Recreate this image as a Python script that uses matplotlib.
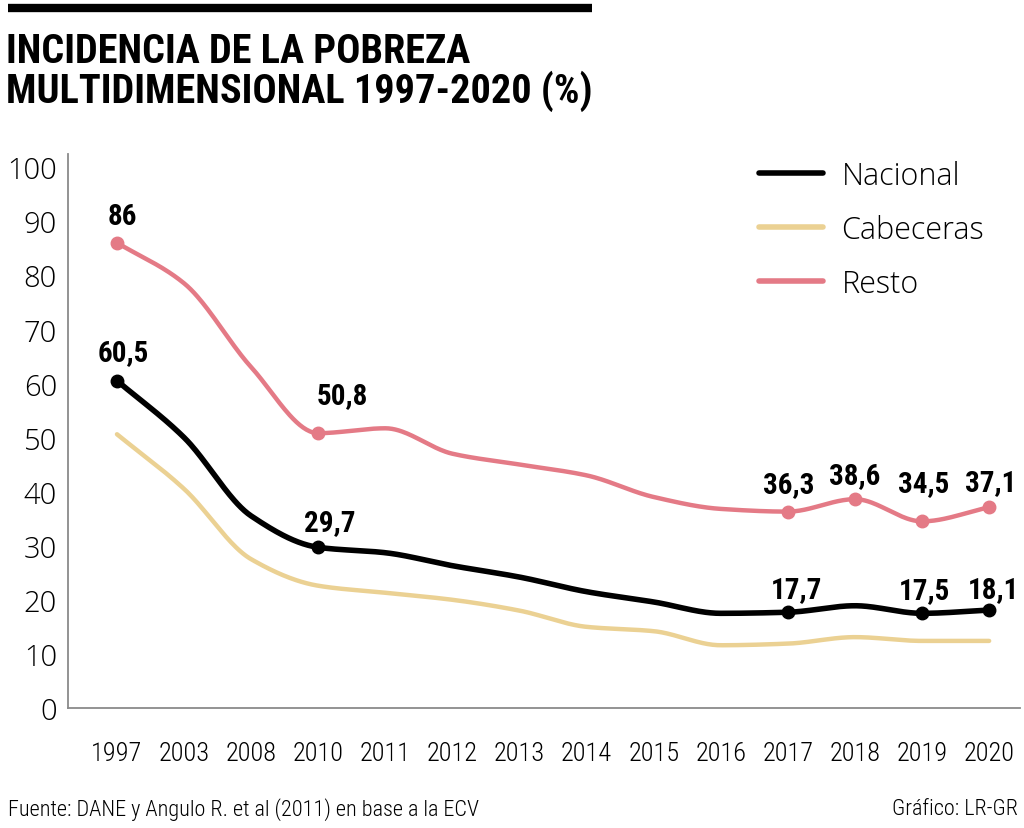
import numpy as np
import matplotlib
matplotlib.use("Agg")
import matplotlib.pyplot as plt
from matplotlib import font_manager as fm
from matplotlib.lines import Line2D

# ---------------- data ----------------
years = ['1997', '2003', '2008', '2010', '2011', '2012', '2013', '2014',
         '2015', '2016', '2017', '2018', '2019', '2020']
nacional = [60.5, 50.0, 35.5, 29.7, 28.7, 26.3, 24.2, 21.5, 19.6, 17.5, 17.7, 18.9, 17.5, 18.1]
cabeceras = [50.6, 40.5, 27.5, 22.6, 21.3, 20.0, 18.0, 15.0, 14.2, 11.6, 11.9, 13.1, 12.4, 12.4]
resto = [86.0, 78.5, 63.0, 50.8, 51.7, 47.0, 45.0, 43.0, 39.0, 36.8, 36.3, 38.6, 34.5, 37.1]

# labelled points (year -> label text)
nacional_labels = {'1997': '60,5', '2010': '29,7', '2017': '17,7', '2019': '17,5', '2020': '18,1'}
resto_labels = {'1997': '86', '2010': '50,8', '2017': '36,3', '2018': '38,6', '2019': '34,5', '2020': '37,1'}

yticks = [0, 10, 20, 30, 40, 50, 60, 70, 80, 90, 100]

title = "INCIDENCIA DE LA POBREZA\nMULTIDIMENSIONAL 1997-2020 (%)"
source = "Fuente: DANE y Angulo R. et al (2011) en base a la ECV"
credit = "Gráfico: LR-GR"

# ---------------- styles ----------------
C_NAC = '#000000'
C_CAB = '#EBD193'
C_RES = '#E47A86'
C_AXIS = '#8a8a8a'

available = {f.name for f in fm.fontManager.ttflist}
def pick(*names):
    for n in names:
        if n in available:
            return n
    return 'DejaVu Sans'

F_NARROW = pick('Roboto Condensed', 'Liberation Sans Narrow', 'Open Sans Condensed', 'Noto Sans', 'DejaVu Sans')
F_LIGHT = pick('Open Sans', 'Lato', 'Noto Sans')
F_TITLE = pick('Roboto Condensed', 'Open Sans', 'Noto Sans')


def monotone(xs, ys, n=40):
    xs = np.asarray(xs, float)
    ys = np.asarray(ys, float)
    h = np.diff(xs)
    d = np.diff(ys) / h
    m = np.zeros_like(ys)
    for k in range(1, len(ys) - 1):
        if d[k - 1] * d[k] <= 0:
            m[k] = 0.0
        else:
            w1 = 2 * h[k] + h[k - 1]
            w2 = h[k] + 2 * h[k - 1]
            m[k] = (w1 + w2) / (w1 / d[k - 1] + w2 / d[k])
    m[0] = d[0]
    m[-1] = d[-1]
    X, Y = [], []
    for k in range(len(xs) - 1):
        t = np.linspace(0, 1, n, endpoint=(k == len(xs) - 2))
        h00 = 2 * t**3 - 3 * t**2 + 1
        h10 = t**3 - 2 * t**2 + t
        h01 = -2 * t**3 + 3 * t**2
        h11 = t**3 - t**2
        X.append(xs[k] + t * h[k])
        Y.append(h00 * ys[k] + h10 * h[k] * m[k] + h01 * ys[k + 1] + h11 * h[k] * m[k + 1])
    return np.concatenate(X), np.concatenate(Y)


fig = plt.figure(figsize=(10.24, 8.29), dpi=100)
ax = fig.add_axes([68 / 1024, 1 - 709 / 829, (1020 - 68) / 1024, (709 - 155) / 829])

x = np.arange(len(years))

for vals, col, lw, z in [(cabeceras, C_CAB, 3.2, 2), (resto, C_RES, 3.2, 3), (nacional, C_NAC, 4.0, 4)]:
    sx, sy = monotone(x, vals)
    ax.plot(sx, sy, color=col, lw=lw, solid_capstyle='round', zorder=z)

# label offsets in pixels (dx right, dy up) from the point to the label centre
label_offsets = {
    ('res', '1997'): (5, 27), ('res', '2010'): (24, 38), ('res', '2017'): (1, 28),
    ('res', '2018'): (0, 24), ('res', '2019'): (2, 38), ('res', '2020'): (2, 25),
    ('nac', '1997'): (6, 29), ('nac', '2010'): (12, 25), ('nac', '2017'): (9, 23),
    ('nac', '2019'): (2, 23), ('nac', '2020'): (4, 21),
}

for key, vals, labs, col in [('res', resto, resto_labels, C_RES), ('nac', nacional, nacional_labels, C_NAC)]:
    for yr, txt in labs.items():
        i = years.index(yr)
        ax.plot(x[i], vals[i], 'o', color=col, ms=9, zorder=6)
        dx, dy = label_offsets[(key, yr)]
        ax.annotate(txt, (x[i], vals[i]), xytext=(dx * 0.72, dy * 0.72), textcoords='offset points',
                    ha='center', va='center', fontsize=21, fontweight='bold',
                    family=F_NARROW, color='black', zorder=7)

ax.set_xlim(-0.73, 13.46)
ax.set_ylim(0, 102.4)
ax.set_xticks(x)
ax.set_xticklabels(years, family=F_NARROW, fontsize=19, fontweight='light')
ax.set_yticks(yticks)
ax.set_yticklabels([str(v) for v in yticks], family=F_LIGHT, fontsize=21, fontweight='light')
ax.tick_params(length=0)
ax.tick_params(axis='y', pad=8)
ax.tick_params(axis='x', pad=24)
for s in ['top', 'right']:
    ax.spines[s].set_visible(False)
for s in ['left', 'bottom']:
    ax.spines[s].set_color(C_AXIS)
    ax.spines[s].set_linewidth(1.3)

# legend
handles = [Line2D([], [], color=C_NAC, lw=4, solid_capstyle='round'),
           Line2D([], [], color=C_CAB, lw=4, solid_capstyle='round'),
           Line2D([], [], color=C_RES, lw=4, solid_capstyle='round')]
leg = fig.legend(handles, ['Nacional', 'Cabeceras', 'Resto'], loc='upper left',
                 bbox_to_anchor=(759 / 1024, 1 - 161 / 829), bbox_transform=fig.transFigure,
                 frameon=False, handlelength=2.1, borderpad=0, borderaxespad=0,
                 handletextpad=0.6, labelspacing=0.72,
                 prop={'family': F_LIGHT, 'size': 22, 'weight': 'light'})

# top bar
fig.add_artist(Line2D([8 / 1024, 592 / 1024], [1 - 9 / 829, 1 - 9 / 829], color='black', lw=6,
                      transform=fig.transFigure, solid_capstyle='butt'))

fig.text(6 / 1024, 1 - 33 / 829, title, ha='left', va='top', fontsize=29, fontweight='bold',
         family=F_TITLE, linespacing=0.98)
fig.text(8 / 1024, 1 - 810 / 829, source, ha='left', va='center', fontsize=16,
         family=F_NARROW, fontweight='light')
fig.text(1018 / 1024, 1 - 810 / 829, credit, ha='right', va='center', fontsize=16,
         family=F_NARROW, fontweight='light')

fig.savefig('out.png', dpi=100)
